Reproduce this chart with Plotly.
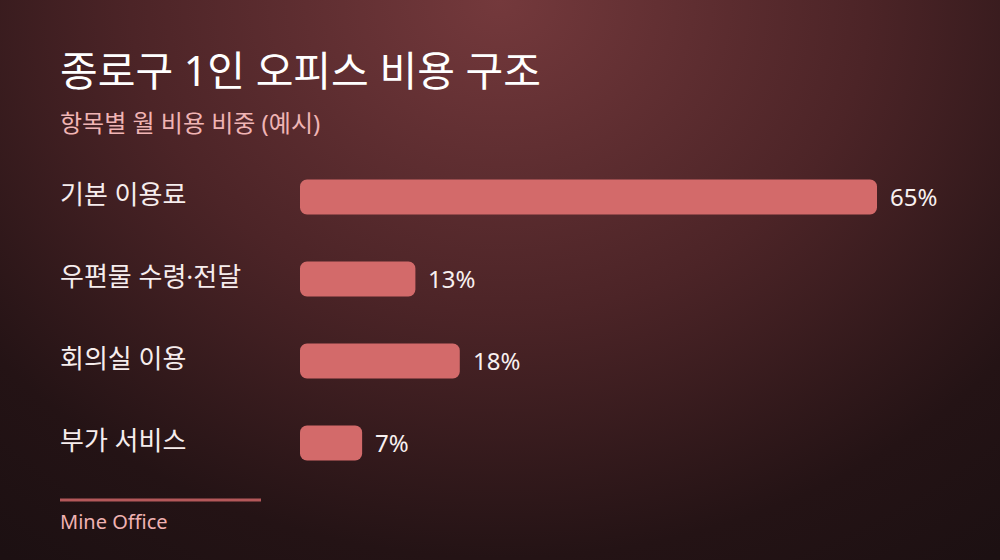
import base64
import plotly.graph_objects as go

# 항목별 월 비용 비중 (%)
categories = ["기본 이용료", "우편물 수령·전달", "회의실 이용", "부가 서비스"]
shares = [65, 13, 18, 7]

title_text = "종로구 1인 오피스 비용 구조"
subtitle_text = "항목별 월 비용 비중 (예시)"
footer_text = "Mine Office"

FONT = "Noto Sans, Noto Sans CJK KR"
BAR_COLOR = "#d36a6a"
LEFT_X = 0.058

# 배경: 위쪽 가운데가 밝은 방사형 그라데이션 (SVG 이미지)
bg_svg = """<svg xmlns='http://www.w3.org/2000/svg' width='1000' height='560'>
<defs><radialGradient id='g' cx='500' cy='0' r='820' gradientUnits='userSpaceOnUse'
 gradientTransform='translate(500 0) scale(1 0.85) translate(-500 0)'>
<stop offset='0' stop-color='#74393c'/>
<stop offset='0.45' stop-color='#4c2427'/>
<stop offset='0.8' stop-color='#241315'/>
<stop offset='1' stop-color='#1c1012'/>
</radialGradient></defs>
<rect width='1000' height='560' fill='url(#g)'/></svg>"""
bg_src = "data:image/svg+xml;base64," + base64.b64encode(bg_svg.encode()).decode()

fig = go.Figure()
# base를 지정하면 막대 양쪽 끝이 모두 둥글게 그려짐
fig.add_trace(go.Bar(
    x=shares, base=[0] * len(shares),
    y=categories, orientation="h",
    marker=dict(color=BAR_COLOR, cornerradius=7, line=dict(width=0)),
    hoverinfo="skip",
))

annotations = []
for cat, val in zip(categories, shares):
    annotations.append(dict(
        x=LEFT_X, xref="paper", y=cat, yref="y", text=cat, showarrow=False,
        xanchor="left", yanchor="middle", yshift=3,
        font=dict(family=FONT, size=26, color="#f6eded"),
    ))
    annotations.append(dict(
        x=val, xref="x", y=cat, yref="y", text=f"{val}%", showarrow=False,
        xanchor="left", yanchor="middle", xshift=11, yshift=1,
        font=dict(family=FONT, size=24, color="#f8f0f0"),
    ))

annotations += [
    dict(x=LEFT_X, xref="paper", y=1 - 70 / 560, yref="paper", text=title_text,
         showarrow=False, xanchor="left", yanchor="middle",
         font=dict(family=FONT, size=41, color="#ffffff")),
    dict(x=LEFT_X, xref="paper", y=1 - 122 / 560, yref="paper", text=subtitle_text,
         showarrow=False, xanchor="left", yanchor="middle",
         font=dict(family=FONT, size=24, color="#f0b4b4")),
    dict(x=LEFT_X, xref="paper", y=1 - 521 / 560, yref="paper", text=footer_text,
         showarrow=False, xanchor="left", yanchor="middle",
         font=dict(family=FONT, size=20, color="#f0b2b2")),
]

px_per_unit = (877 - 300) / 65
fig.update_layout(
    width=1000, height=560,
    margin=dict(l=0, r=0, t=0, b=0),
    paper_bgcolor="#1c1012",
    plot_bgcolor="rgba(0,0,0,0)",
    showlegend=False,
    bargap=1 - 35 / 82,
    font=dict(family=FONT),
    xaxis=dict(domain=[0.3, 0.9], range=[0, 600 / px_per_unit],
               visible=False, fixedrange=True),
    yaxis=dict(domain=[1 - 484 / 560, 1 - 156 / 560], range=[3.5, -0.5],
               visible=False, fixedrange=True),
    annotations=annotations,
    shapes=[dict(type="line", xref="paper", yref="paper",
                 x0=0.06, x1=0.261, y0=1 - 500 / 560, y1=1 - 500 / 560,
                 line=dict(color="#b4585a", width=3))],
    images=[dict(source=bg_src, xref="paper", yref="paper", x=0, y=1,
                 sizex=1, sizey=1, xanchor="left", yanchor="top",
                 sizing="stretch", layer="below")],
)

fig.write_html(
    "out.html",
    config={"displayModeBar": False},
    post_script="document.body.style.margin='0';document.body.style.background='#1c1012';",
)
